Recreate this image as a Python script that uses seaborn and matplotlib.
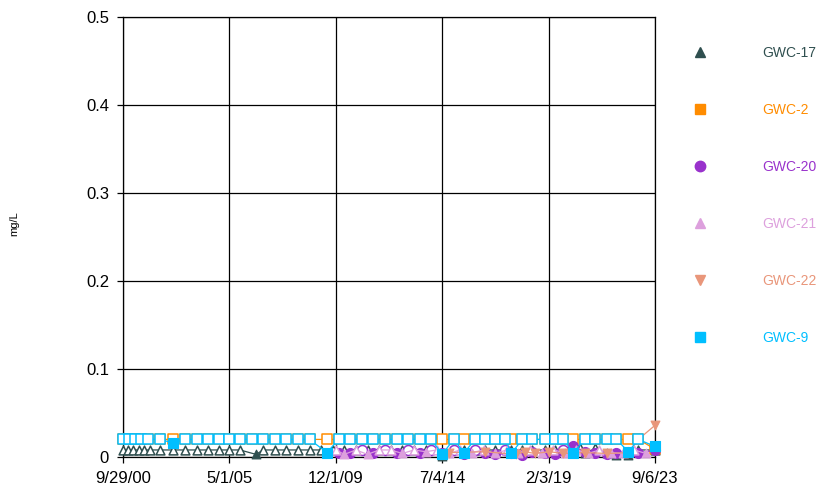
import numpy as np
import pandas as pd
import matplotlib
matplotlib.use("Agg")
import matplotlib.pyplot as plt
import seaborn as sns
from matplotlib.lines import Line2D

sns.set_theme(style="white")
plt.rcParams['font.family'] = ['Liberation Sans', 'DejaVu Sans']

# ---------------- data ----------------
wells = ["GWC-17", "GWC-2", "GWC-20", "GWC-21", "GWC-22", "GWC-9"]
colors = ["#2F4F4F", "#FF8C00", "#9932CC", "#DDA0DD", "#E9967A", "#00BFFF"]
markers = ["^", "s", "o", "^", "v", "s"]

gwc9_dates = ["2000-09-29", "2001-01-01", "2001-04-06", "2001-07-09", "2001-10-28",
              "2002-05-05", "2002-11-24", "2003-06-02", "2003-12-08", "2004-05-29",
              "2004-11-18", "2005-05-01", "2005-10-15", "2006-04-15", "2006-10-15",
              "2007-04-15", "2007-10-15", "2008-04-15", "2008-10-15", "2009-07-15",
              "2010-01-15", "2010-07-15", "2011-01-15", "2011-07-15", "2012-01-15",
              "2012-07-15", "2013-01-15", "2013-07-15", "2014-01-15", "2014-07-04",
              "2015-01-01", "2015-06-15", "2015-12-06", "2016-05-12", "2016-10-17",
              "2017-03-23", "2017-06-26", "2017-12-16", "2018-05-23", "2018-12-14",
              "2019-05-21", "2019-09-24", "2020-02-28", "2020-09-04", "2021-02-09",
              "2021-08-17", "2022-01-06", "2022-07-14", "2022-12-18", "2023-09-06"]
gwc9_values = [0.02, 0.02, 0.02, 0.02, 0.02, 0.02, 0.016, 0.02, 0.02, 0.02,
               0.02, 0.02, 0.02, 0.02, 0.02, 0.02, 0.02, 0.02, 0.02, 0.005,
               0.02, 0.02, 0.02, 0.02, 0.02, 0.02, 0.02, 0.02, 0.02, 0.003,
               0.02, 0.005, 0.02, 0.02, 0.02, 0.02, 0.004, 0.02, 0.02, 0.02,
               0.02, 0.02, 0.005, 0.02, 0.02, 0.02, 0.02, 0.006, 0.02, 0.012]
gwc9_detect = [0, 0, 0, 0, 0, 0, 1, 0, 0, 0,
               0, 0, 0, 0, 0, 0, 0, 0, 0, 1,
               0, 0, 0, 0, 0, 0, 0, 0, 0, 1,
               0, 1, 0, 0, 0, 0, 1, 0, 0, 0,
               0, 0, 1, 0, 0, 0, 0, 1, 0, 1]

gwc2_dates = gwc9_dates
gwc2_values = [0.02] * 49 + [0.009]
gwc2_detect = [0] * 50

gwc17_dates = ["2000-09-29", "2000-12-15", "2001-03-10", "2001-06-05", "2001-09-01",
               "2001-12-01", "2002-05-05", "2002-11-24", "2003-06-02", "2003-12-08",
               "2004-05-29", "2004-11-18", "2005-05-01", "2005-10-15", "2006-06-23",
               "2006-10-15", "2007-04-15", "2007-10-15", "2008-04-15", "2008-10-15",
               "2009-04-15", "2009-10-15", "2010-04-15", "2010-10-15", "2011-04-15",
               "2011-10-15", "2012-04-15", "2012-10-15", "2013-04-15", "2013-10-15",
               "2014-07-04", "2015-06-15", "2015-12-06", "2016-05-12", "2016-10-17",
               "2017-06-26", "2017-12-16", "2018-05-23", "2018-12-14", "2019-05-21",
               "2019-09-24", "2020-02-28", "2020-06-15", "2020-09-04", "2021-02-09",
               "2021-08-17", "2022-01-06", "2022-07-14", "2022-12-18", "2023-09-06"]
gwc17_values = [0.008] * 14 + [0.003] + [0.008] * 15 + [0.001] + [0.008] * 10 + \
               [0.004, 0.010, 0.004, 0.010, 0.004, 0.002, 0.002, 0.008, 0.008]
gwc17_detect = [0] * 14 + [1] + [0] * 15 + [1] + [0] * 10 + \
               [1, 0, 1, 0, 1, 1, 1, 0, 0]

gwc20_dates = ["2010-01-15", "2010-07-15", "2011-01-15", "2011-07-15", "2012-01-15",
               "2012-07-15", "2013-01-15", "2013-07-15", "2014-01-15", "2014-07-04",
               "2015-01-01", "2015-06-15", "2015-12-06", "2016-05-12", "2016-10-17",
               "2017-03-23", "2017-06-26", "2017-12-16", "2018-05-23", "2018-12-14",
               "2019-05-21", "2019-09-24", "2020-02-28", "2020-09-04", "2021-02-09",
               "2021-08-17", "2022-01-06", "2022-07-14", "2022-12-18", "2023-09-06"]
gwc20_values = [0.005, 0.004, 0.008, 0.005, 0.008, 0.004, 0.008, 0.005, 0.008, 0.004,
                0.008, 0.003, 0.008, 0.005, 0.003, 0.008, 0.004, 0.002, 0.006, 0.004,
                0.003, 0.008, 0.012, 0.006, 0.004, 0.003, 0.005, 0.006, 0.004, 0.008]
gwc20_detect = [1, 1, 0, 1, 0, 1, 0, 1, 0, 1,
                0, 1, 0, 1, 1, 0, 1, 1, 1, 1,
                1, 0, 1, 1, 1, 1, 1, 1, 1, 1]

gwc21_dates = ["2009-12-01", "2010-04-15", "2010-10-15", "2011-04-15", "2011-10-15",
               "2012-04-15", "2012-10-15", "2013-04-15", "2013-10-15", "2014-04-15",
               "2014-10-15", "2015-04-15", "2015-10-15", "2016-04-15", "2016-10-15",
               "2017-04-15", "2017-10-15", "2018-04-15", "2018-10-15", "2019-04-15",
               "2019-10-15", "2020-04-15", "2020-10-15", "2021-04-15", "2021-10-15",
               "2022-04-15", "2022-10-15", "2023-04-15"]
gwc21_values = [0.008, 0.003, 0.008, 0.003, 0.008, 0.008, 0.004, 0.008, 0.006, 0.008,
                0.004, 0.008, 0.005, 0.008, 0.004, 0.008, 0.005, 0.008, 0.004, 0.008,
                0.005, 0.008, 0.004, 0.008, 0.005, 0.004, 0.008, 0.004]
gwc21_detect = [0, 1, 0, 1, 0, 0, 1, 0, 1, 0,
                1, 0, 1, 0, 1, 0, 1, 0, 1, 0,
                1, 0, 1, 0, 1, 1, 0, 1]

gwc22_dates = ["2014-10-20", "2016-05-12", "2017-09-01", "2018-02-01", "2018-07-01",
               "2019-02-15", "2019-09-24", "2020-09-04", "2021-08-17", "2022-07-14",
               "2022-12-18", "2023-09-06"]
gwc22_values = [0.005, 0.006, 0.003, 0.006, 0.004, 0.006, 0.004, 0.005, 0.004, 0.005,
                0.02, 0.036]
gwc22_detect = [1, 1, 1, 1, 1, 1, 1, 1, 1, 1, 0, 1]

series = {
    "GWC-17": (gwc17_dates, gwc17_values, gwc17_detect),
    "GWC-2": (gwc2_dates, gwc2_values, gwc2_detect),
    "GWC-20": (gwc20_dates, gwc20_values, gwc20_detect),
    "GWC-21": (gwc21_dates, gwc21_values, gwc21_detect),
    "GWC-22": (gwc22_dates, gwc22_values, gwc22_detect),
    "GWC-9": (gwc9_dates, gwc9_values, gwc9_detect),
}

xtick_dates = ["2000-09-29", "2005-05-01", "2009-12-01", "2014-07-04", "2019-02-03", "2023-09-06"]
xtick_labels = ["9/29/00", "5/1/05", "12/1/09", "7/4/14", "2/3/19", "9/6/23"]
ytick_values = [0, 0.1, 0.2, 0.3, 0.4, 0.5]
ytick_labels = ["0", "0.1", "0.2", "0.3", "0.4", "0.5"]

# ---------------- plot ----------------
fig = plt.figure(figsize=(8.27, 4.90), dpi=100)
ax = fig.add_axes([123 / 827, 33 / 490, 532 / 827, 440 / 490])

for i, (name, col, mk) in enumerate(zip(wells, colors, markers)):
    d, v, det = series[name]
    df = pd.DataFrame({"date": pd.to_datetime(d), "value": v, "det": det})
    z = 3 + i
    sns.lineplot(data=df, x="date", y="value", color=col, linewidth=0.9,
                 estimator=None, sort=False, ax=ax, zorder=z)
    sz = 52 if mk in ("s", "o") else 40
    nd = df[df["det"] == 0]
    dd = df[df["det"] == 1]
    if len(nd):
        sns.scatterplot(data=nd, x="date", y="value", marker=mk, s=sz,
                        facecolor="white", edgecolor=col, linewidth=1.1,
                        ax=ax, zorder=z + 0.2, clip_on=False)
    if len(dd):
        sns.scatterplot(data=dd, x="date", y="value", marker=mk, s=sz,
                        color=col, edgecolor=col, linewidth=0.8,
                        ax=ax, zorder=z + 0.3, clip_on=False)

ax.set_xlim(pd.Timestamp(xtick_dates[0]), pd.Timestamp(xtick_dates[-1]))
ax.set_ylim(0, 0.5)
ax.set_xticks(pd.to_datetime(xtick_dates))
ax.set_xticklabels(xtick_labels)
ax.set_yticks(ytick_values)
ax.set_yticklabels(ytick_labels)
ax.set_xlabel("")
ax.set_ylabel("mg/L", fontsize=8, color="black")
ax.yaxis.set_label_coords(-0.195, 0.53)

ax.grid(True, color="black", linewidth=0.9)
ax.set_axisbelow(True)
for sp in ax.spines.values():
    sp.set_color("black")
    sp.set_linewidth(0.9)
ax.tick_params(axis="both", which="both", bottom=True, left=True, direction="out",
               length=4, width=0.9, color="black", labelsize=12, labelcolor="black")
ax.tick_params(axis="y", pad=6)
ax.tick_params(axis="x", pad=6)

handles = [Line2D([], [], marker=m, linestyle="none", color=c, markersize=7.5)
           for m, c in zip(markers, colors)]
leg = ax.legend(handles, wells, loc="upper left",
                bbox_to_anchor=(693 / 827, 1 - 46 / 490), bbox_transform=fig.transFigure,
                frameon=False, fontsize=10, borderpad=0, borderaxespad=0,
                labelspacing=3.1, handlelength=1.0, handletextpad=3.96)
for t, c in zip(leg.get_texts(), colors):
    t.set_color(c)

fig.savefig("out.png", dpi=100)
